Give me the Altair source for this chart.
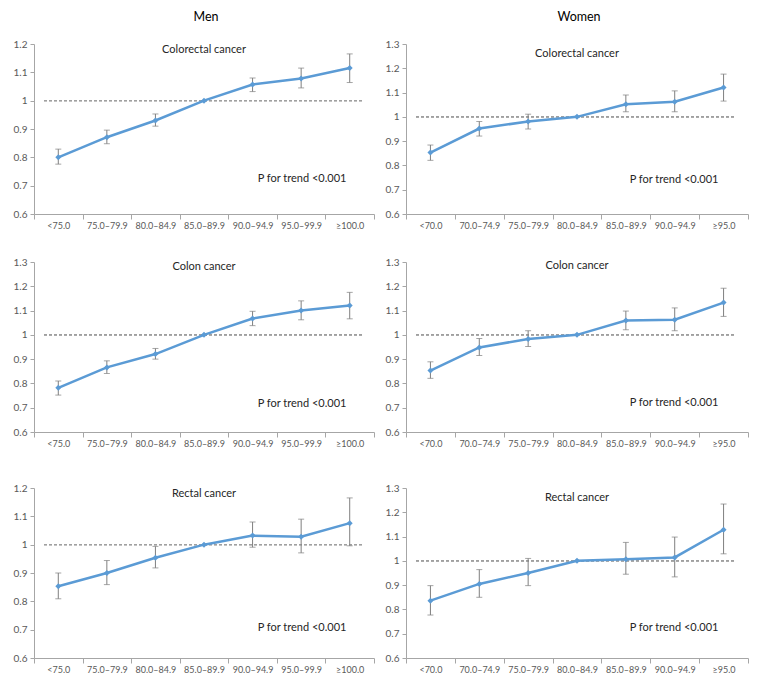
import altair as alt
import pandas as pd

men_cats = ["<75.0", "75.0–79.9", "80.0–84.9", "85.0–89.9", "90.0–94.9", "95.0–99.9", "≥100.0"]
women_cats = ["<70.0", "70.0–74.9", "75.0–79.9", "80.0–84.9", "85.0–89.9", "90.0–94.9", "≥95.0"]

# Men
men_crc_est = [0.800, 0.871, 0.930, 1.000, 1.057, 1.078, 1.115]
men_crc_lo = [0.776, 0.848, 0.910, 1.000, 1.032, 1.045, 1.064]
men_crc_hi = [0.829, 0.896, 0.953, 1.000, 1.080, 1.115, 1.165]

men_colon_est = [0.782, 0.866, 0.921, 1.000, 1.067, 1.100, 1.121]
men_colon_lo = [0.752, 0.841, 0.900, 1.000, 1.038, 1.062, 1.066]
men_colon_hi = [0.810, 0.893, 0.944, 1.000, 1.097, 1.140, 1.175]

men_rectal_est = [0.853, 0.900, 0.954, 1.000, 1.032, 1.028, 1.076]
men_rectal_lo = [0.809, 0.859, 0.918, 1.000, 0.991, 0.971, 0.996]
men_rectal_hi = [0.900, 0.944, 0.994, 1.000, 1.080, 1.090, 1.165]

# Women
women_crc_est = [0.853, 0.952, 0.981, 1.000, 1.052, 1.062, 1.121]
women_crc_lo = [0.821, 0.921, 0.950, 1.000, 1.021, 1.021, 1.065]
women_crc_hi = [0.884, 0.981, 1.011, 1.000, 1.090, 1.107, 1.176]

women_colon_est = [0.853, 0.948, 0.983, 1.000, 1.059, 1.062, 1.133]
women_colon_lo = [0.821, 0.915, 0.952, 1.000, 1.021, 1.017, 1.076]
women_colon_hi = [0.889, 0.985, 1.017, 1.000, 1.098, 1.111, 1.192]

women_rectal_est = [0.836, 0.905, 0.950, 1.000, 1.007, 1.014, 1.128]
women_rectal_lo = [0.777, 0.850, 0.898, 1.000, 0.945, 0.934, 1.029]
women_rectal_hi = [0.898, 0.964, 1.010, 1.000, 1.076, 1.098, 1.234]

subtitles = ["Colorectal  cancer", "Colon cancer", "Rectal cancer"]
column_titles = ["Men", "Women"]
p_text = "P for trend <0.001"

FONT = "Lato"
BLUE = "#5B9BD5"
GREY = "#7F7F7F"
H = 170


def panel(cats, est, lo, hi, ymax, subtitle, sub_y, p_y, width, title=None):
    df = pd.DataFrame({"cat": cats, "est": est, "lo": lo, "hi": hi})
    x = alt.X("cat:N", sort=cats, scale=alt.Scale(type="band", paddingInner=0, paddingOuter=0),
              axis=alt.Axis(title=None, labelAngle=0, tickBand="extent", tickSize=5,
                            labelPadding=2, labelFontSize=9, labelColor="#595959",
                            labelFont=FONT, labelOverlap=False, labelFlush=False,
                            domainColor="#A6A6A6", tickColor="#A6A6A6"))
    yvals = [round(0.6 + 0.1 * i, 1) for i in range(int(round((ymax - 0.6) * 10)) + 1)]
    yscale = alt.Scale(domain=[0.6, ymax], nice=False, zero=False)
    yaxis = alt.Axis(title=None, values=yvals, format=".1~f", grid=False, tickSize=4,
                     labelPadding=3, labelFontSize=10, labelColor="#595959", labelFont=FONT,
                     labelOverlap=False, labelFlush=False,
                     domainColor="#A6A6A6", tickColor="#A6A6A6")
    base = alt.Chart(df)
    ref = base.mark_rule(color="#A0A0A0", strokeDash=[3, 2], strokeWidth=0.8).encode(
        x=alt.value(10), x2=alt.value(width - 12), y=alt.datum(1.0, scale=yscale, axis=yaxis))
    bars = base.mark_rule(color=GREY, strokeWidth=1).encode(
        x=x, y=alt.Y("lo:Q", scale=yscale, axis=yaxis), y2="hi:Q")
    cap_lo = base.mark_tick(color=GREY, size=6, thickness=1).encode(
        x=x, y=alt.Y("lo:Q", scale=yscale, axis=yaxis))
    cap_hi = base.mark_tick(color=GREY, size=6, thickness=1).encode(
        x=x, y=alt.Y("hi:Q", scale=yscale, axis=yaxis))
    line = base.mark_line(color=BLUE, strokeWidth=2.5).encode(
        x=x, y=alt.Y("est:Q", scale=yscale, axis=yaxis))
    pts = base.mark_point(shape="diamond", filled=True, size=36, color=BLUE, opacity=1).encode(
        x=x, y=alt.Y("est:Q", scale=yscale, axis=yaxis))
    sub = alt.Chart(pd.DataFrame({"t": [subtitle]})).mark_text(
        font=FONT, fontSize=11, color="#262626", baseline="middle", align="center").encode(
        text="t:N", x=alt.value(width / 2), y=alt.value(sub_y))
    ptxt = alt.Chart(pd.DataFrame({"t": [p_text]})).mark_text(
        font=FONT, fontSize=11, color="#262626", baseline="middle", align="center").encode(
        text="t:N", x=alt.value(268), y=alt.value(p_y))
    layers = [ref, bars, cap_lo, cap_hi, line, pts, sub, ptxt]
    if title:
        layers.append(alt.Chart(pd.DataFrame({"t": [title]})).mark_text(
            font=FONT, fontSize=12.5, color="#000000", baseline="middle", align="center").encode(
            text="t:N", x=alt.value(width / 2 + 2), y=alt.value(-27)))
    return alt.layer(*layers).properties(width=width, height=H)


WM, WW = 340, 342
men = alt.vconcat(
    alt.vconcat(
        panel(men_cats, men_crc_est, men_crc_lo, men_crc_hi, 1.2, subtitles[0], 6, 135, WM, column_titles[0]),
        panel(men_cats, men_colon_est, men_colon_lo, men_colon_hi, 1.3, subtitles[1], 5, 142, WM),
        spacing=27,
    ),
    panel(men_cats, men_rectal_est, men_rectal_lo, men_rectal_hi, 1.2, subtitles[2], 6, 140, WM),
    spacing=35,
)
women = alt.vconcat(
    alt.vconcat(
        panel(women_cats, women_crc_est, women_crc_lo, women_crc_hi, 1.3, subtitles[0], 10, 136, WW, column_titles[1]),
        panel(women_cats, women_colon_est, women_colon_lo, women_colon_hi, 1.3, subtitles[1], 4, 141, WW),
        spacing=27,
    ),
    panel(women_cats, women_rectal_est, women_rectal_lo, women_rectal_hi, 1.3, subtitles[2], 10, 140, WW),
    spacing=35,
)

chart = alt.hconcat(men, women, spacing=10).properties(
    padding={"left": 5, "top": 3, "right": 5, "bottom": 5}
).configure_view(stroke=None)

chart.save("out.html", embed_options={"renderer": "svg", "actions": False})
